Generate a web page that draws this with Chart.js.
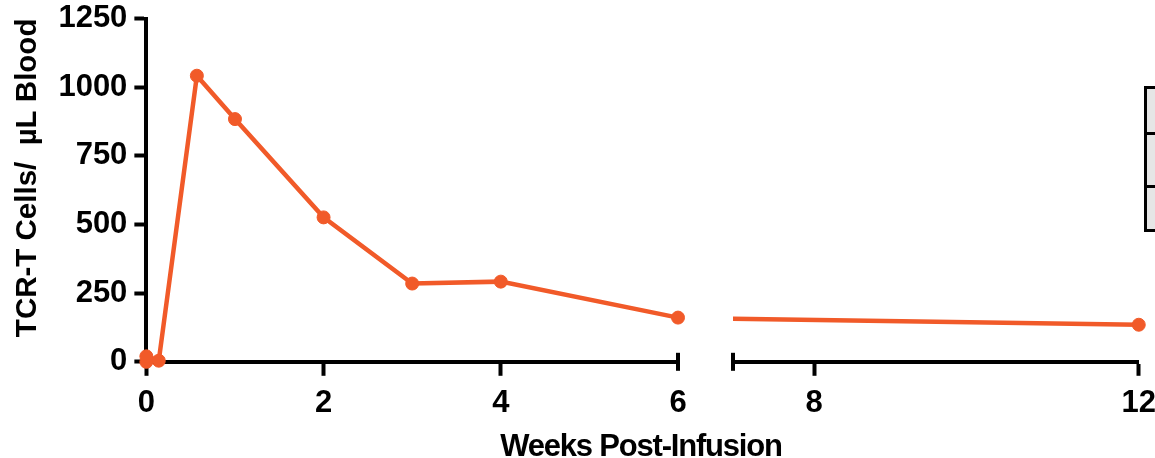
<!DOCTYPE html>
<html>
<head>
<meta charset="utf-8">
<title>TCR-T Cells</title>
<script src="https://cdn.jsdelivr.net/npm/chart.js@4/dist/chart.umd.min.js"></script>
<style>
  html, body { margin: 0; padding: 0; overflow: hidden; background: #fff; }
  #wrap { position: relative; width: 1155px; height: 458px; overflow: hidden; }
  #wrap canvas { position: absolute; left: 0; top: -7px; }
  #xTitle {
    position: absolute; left: 341px; width: 600px; top: 429px;
    text-align: center; color: #000;
    font: bold 31px "Liberation Sans", Arial, sans-serif;
    letter-spacing: -1.2px; line-height: 34px;
  }
  #key { position: absolute; left: 1144px; top: 86px; width: 40px;
    border: 3px solid #000; background: #e6e6e6; }
  #key div { border-bottom: 3px solid #000; }
  #key div:last-child { border-bottom: none; }
</style>
</head>
<body>
<div id="wrap">
  <canvas id="chartLeft" width="1155" height="465"></canvas>
  <canvas id="chartRight" width="1165" height="465"></canvas>
  <div id="xTitle">Weeks Post-Infusion</div>
  <div id="key"><div style="height:43px"></div><div style="height:50px"></div><div style="height:41px"></div></div>
</div>
<script>
'use strict'

// data
const weeks = [0, 0, 0.14, 0.57, 1, 2, 3, 4, 6, 12];
const cells = [0, 20, 4, 1042, 884, 526, 285, 292, 161, 135];

// broken x axis: 0-6 | 7-12
const leftTicks = [0, 2, 4, 6];
const rightTicks = [8, 12];
const yTicks = [0, 250, 500, 750, 1000, 1250];

const orange = '#f15a29';
const fontFamily = '"Liberation Sans", Arial, Helvetica, sans-serif';
const tickFont = { family: fontFamily, weight: 'bold', size: 31 };

let points = weeks.map(function (w, i) { return { x: w, y: cells[i] }; });

// small cap across the axis where it is broken
const breakCap = {
    id: 'breakCap',
    afterDraw: function (chart, args, opts) {
        let px = chart.scales.x.getPixelForValue(opts.value);
        let py = chart.chartArea.bottom;
        let ctx = chart.ctx;
        ctx.save();
        ctx.strokeStyle = '#000';
        ctx.lineWidth = 4;
        ctx.beginPath();
        ctx.moveTo(px, py - 9);
        ctx.lineTo(px, py + 9);
        ctx.stroke();
        ctx.restore();
    }
};

function xAxis(min, max, ticks) {
    return {
        type: 'linear',
        min: min,
        max: max,
        afterBuildTicks: function (axis) {
            axis.ticks = ticks.map(function (v) { return { value: v }; });
        },
        grid: {
            drawOnChartArea: false,
            tickLength: 14,
            tickWidth: 4,
            tickColor: function (c) {
                return c.tick && c.tick.value === 6 ? 'rgba(0,0,0,0)' : '#000';
            }
        },
        border: { color: '#000', width: 4 },
        ticks: { font: tickFont, color: '#000', padding: 9, maxRotation: 0 }
    };
}

let dataset = {
    borderColor: orange,
    backgroundColor: orange,
    borderWidth: 4.5,
    pointRadius: 6.5,
    pointBorderWidth: 1,
    tension: 0
};

let chartLeft = new Chart(document.getElementById('chartLeft'), {
    type: 'line',
    data: {
        datasets: [Object.assign({}, dataset, {
            data: points.filter(function (p) { return p.x <= 6; }),
            clip: 10
        })]
    },
    options: {
        responsive: false,
        animation: false,
        events: [],
        layout: { padding: { left: 2, right: 1155 - 678, top: 0, bottom: 27 } },
        plugins: {
            legend: { display: false },
            tooltip: { enabled: false },
            breakCap: { value: 6 }
        },
        scales: {
            x: xAxis(0, 6, leftTicks),
            y: {
                min: 0,
                max: 1250,
                afterBuildTicks: function (axis) {
                    axis.ticks = yTicks.map(function (v) { return { value: v }; });
                },
                grid: { drawOnChartArea: false, tickLength: 12, tickWidth: 4, tickColor: '#000' },
                border: { color: '#000', width: 4 },
                ticks: {
                    font: tickFont, color: '#000', padding: 7,
                    callback: function (v) { return String(v); }
                },
                title: {
                    display: true,
                    text: 'TCR-T Cells/  µL Blood',
                    align: 'end',
                    color: '#000',
                    font: { family: fontFamily, weight: 'bold', size: 29.5 },
                    padding: { top: 8, bottom: 6 }
                }
            }
        }
    },
    plugins: [breakCap]
});

let chartRight = new Chart(document.getElementById('chartRight'), {
    type: 'line',
    data: {
        datasets: [Object.assign({}, dataset, {
            data: points.filter(function (p) { return p.x >= 6; }),
            clip: { left: 0, right: 10, top: 10, bottom: 10 }
        })]
    },
    options: {
        responsive: false,
        animation: false,
        events: [],
        layout: { padding: { left: 733, right: 10, top: chartLeft.chartArea.top, bottom: 27 } },
        plugins: {
            legend: { display: false },
            tooltip: { enabled: false },
            breakCap: { value: 7 }
        },
        scales: {
            x: xAxis(7, 12, rightTicks),
            y: { display: false, min: 0, max: 1250 }
        }
    },
    plugins: [breakCap]
});
</script>
</body>
</html>
